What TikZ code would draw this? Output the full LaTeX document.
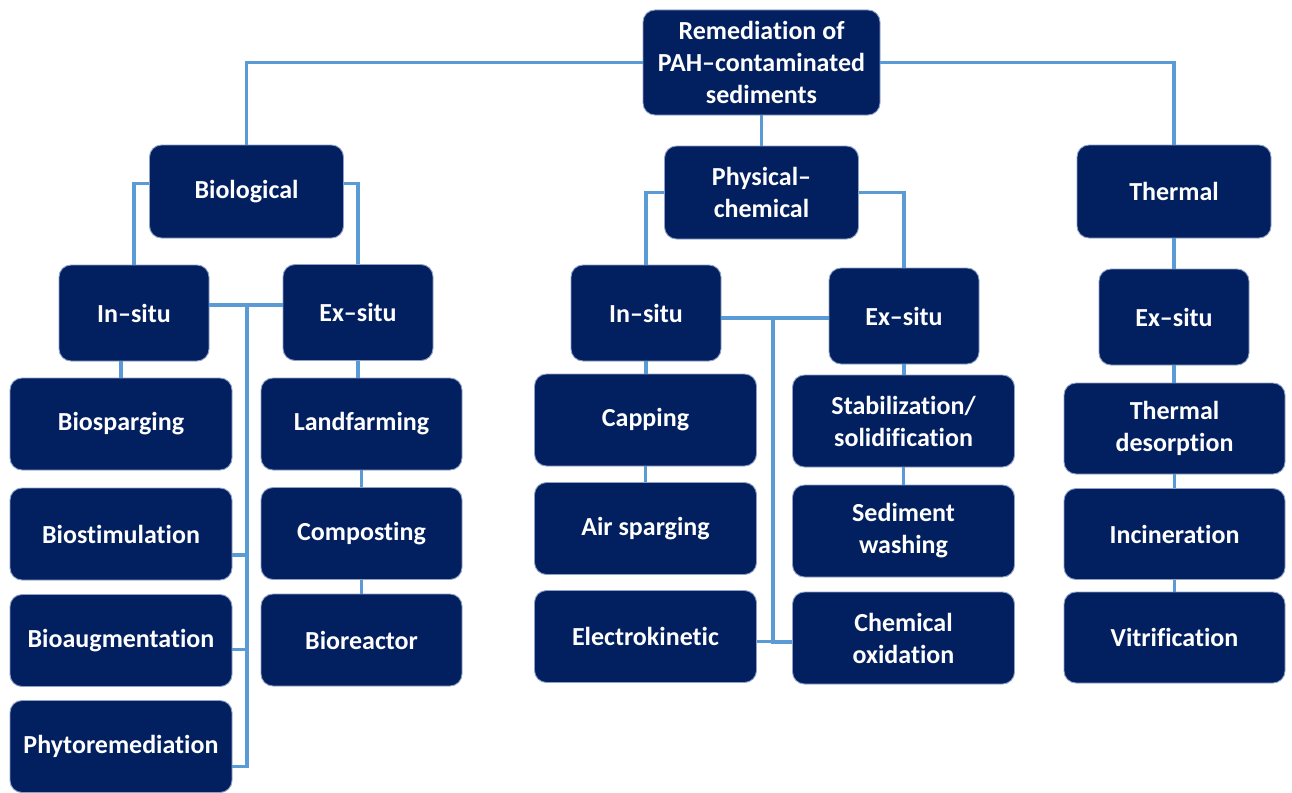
\documentclass[tikz,border=0pt]{standalone}
\usepackage{fontspec}
\setmainfont{Carlito}[Ligatures=NoCommon]
\usetikzlibrary{positioning,calc}
\definecolor{navy}{HTML}{022060}
\definecolor{rim}{HTML}{8FA0C6}
\definecolor{linkblue}{HTML}{5B9BD5}
\tikzset{
  box/.style={draw=rim,line width=0.9pt,rounded corners=12pt,fill=navy,text=white,
    font=\fontsize{26}{32}\selectfont\bfseries,align=center,inner sep=2pt},
  rootbox/.style={box,minimum width=237pt,minimum height=105pt},
  catbox/.style={box,minimum width=194pt,minimum height=93pt},
  sitebox/.style={box,minimum width=150pt,minimum height=96pt},
  techbox/.style={box,minimum width=222pt,minimum height=92pt},
  link/.style={draw=linkblue,line width=3.8pt},
}
\begin{document}
\begin{tikzpicture}[x=1pt,y=-1pt]
  \useasboundingbox (0,0) rectangle (1292,792);
  % top and the three families
  \node[rootbox] (root) at (761.5,62.5) {Remediation of\\PAH–contaminated\\sediments};
  \node[catbox] (bio) at (246.5,191.5) {Biological};
  \node[catbox] (pc) at (761.5,192.5) {Physical–\\chemical};
  \node[catbox] (therm) at (1174,191.5) {Thermal};
  % in-situ / ex-situ
  \node[sitebox] (bin) at (134,313) {In–situ};
  \node[sitebox] (bex) at (358,312.5) {Ex–situ};
  \node[sitebox] (pin) at (646,313) {In–situ};
  \node[sitebox] (pex) at (904,316) {Ex–situ};
  \node[sitebox] (tex) at (1174,317) {Ex–situ};
  % techniques
  \foreach \nm/\y/\lab in {bsparg/424/Biosparging,bstim/534/Biostimulation,
      baug/640.5/Bioaugmentation,phyto/746.5/Phytoremediation}{
    \node[techbox] (\nm) at (121,\y) {\lab};
  }
  \foreach \nm/\y/\lab in {lfarm/424/Landfarming,compost/533.5/Composting,breact/640/Bioreactor}{
    \node[techbox,minimum width=201pt] (\nm) at (361.5,\y) {\lab};
  }
  \foreach \nm/\y/\lab in {capping/420/Capping,airsp/528.5/Air sparging,electro/636.5/Electrokinetic}{
    \node[techbox] (\nm) at (645.5,\y) {\lab};
  }
  \foreach \nm/\y/\lab in {stab/421/{Stabilization/\\solidification},sedw/531/{Sediment\\washing},
      chemox/638/{Chemical\\oxidation}}{
    \node[techbox] (\nm) at (903.5,\y) {\lab};
  }
  \foreach \nm/\y/\lab in {tdes/428.5/{Thermal\\desorption},incin/534/Incineration,vitr/637.5/Vitrification}{
    \node[techbox,minimum width=221pt,minimum height=91pt] (\nm) at (1174.5,\y) {\lab};
  }
  % connectors
  \draw[link] (root.west) -| (bio.north);
  \draw[link] (root.east) -| (therm.north);
  \draw[link] (root.south) -- (pc.north);
  \draw[link] ([yshift=8pt]bio.west) -| (bin.north);
  \draw[link] ([yshift=8pt]bio.east) -| (bex.north);
  \draw[link] (pc.west) -| (pin.north);
  \draw[link] (pc.east) -| (pex.north);
  \draw[link] (therm.south) -- (tex.north);
  % biological spine
  \coordinate (bspine) at (247,305);
  \draw[link] (bspine -| bin.east) -- (bspine -| bex.west);
  \draw[link] (bspine) |- ([yshift=-21pt]bstim.east);
  \draw[link] (bspine) |- ([yshift=-9pt]baug.east);
  \draw[link] (bspine) |- ([yshift=-20pt]phyto.east);
  % physical-chemical spine
  \coordinate (pspine) at (773,318);
  \draw[link] (pspine -| pin.east) -- (pspine -| pex.west);
  \draw[link] (pspine) |- ([yshift=-5pt]electro.east);
  \draw[link] (pspine) |- ([yshift=-4pt]chemox.west);
  % vertical chains
  \draw[link] (bsparg.north |- bin.south) -- (bsparg.north);
  \draw[link] (bex.south) -- (bex.south |- lfarm.north);
  \foreach \a/\b in {lfarm/compost,compost/breact,pin/capping,capping/airsp,
      pex/stab,stab/sedw,tex/tdes,tdes/incin,incin/vitr}{
    \draw[link] (\a.south) -- (\a.south |- \b.north);
  }
\end{tikzpicture}
\end{document}
